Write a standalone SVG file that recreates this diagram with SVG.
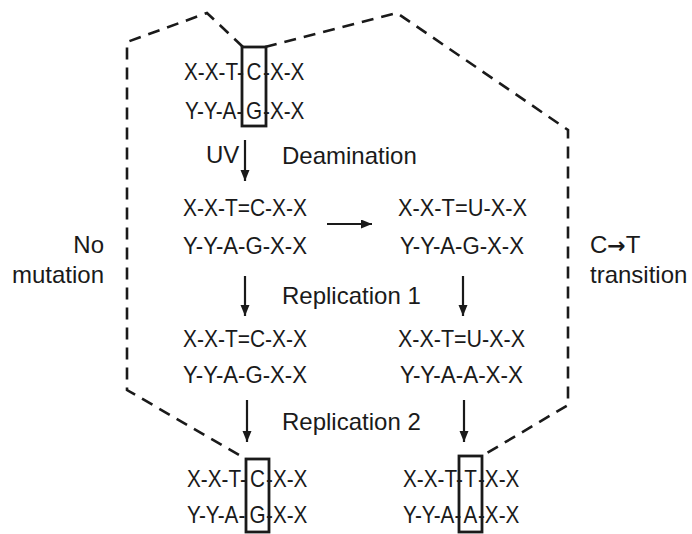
<svg xmlns="http://www.w3.org/2000/svg" width="692" height="534" viewBox="0 0 692 534">
<defs>
<marker id="ah" markerUnits="userSpaceOnUse" markerWidth="12" markerHeight="10" refX="11" refY="4.5" orient="auto">
<path d="M0,0 L11,4.5 L0,9 z" fill="#1a1a1a"/>
</marker>
<style>
text{font-family:"Liberation Sans",Arial,sans-serif;fill:#1a1a1a}
.s{font-size:23px}
.l{font-size:24px}
.ar{font-family:"DejaVu Sans",sans-serif;font-weight:bold;font-size:22px}
.arr{stroke:#1a1a1a;stroke-width:2.2;fill:none;marker-end:url(#ah)}
.dash{stroke:#1a1a1a;stroke-width:2.6;fill:none;stroke-dasharray:12 8}
.box{stroke:#1a1a1a;stroke-width:2.8;fill:none}
</style>
</defs>
<rect width="692" height="534" fill="#fff"/>
<g id="boundary">
<path class="dash" d="M243,47 L207,13 L127,42 L127,390 L246,459"/>
<path class="dash" d="M265,47 L397,13 L568,130 L568,405 L482,456"/>
</g>
<g id="connectors">
<line class="arr" x1="245" y1="140" x2="245" y2="181"/>
<line class="arr" x1="327" y1="224" x2="372" y2="224"/>
<line class="arr" x1="245" y1="276" x2="245" y2="316"/>
<line class="arr" x1="463" y1="276" x2="463" y2="316"/>
<line class="arr" x1="247" y1="400" x2="247" y2="442"/>
<line class="arr" x1="464" y1="400" x2="464" y2="442"/>
</g>
<g id="start">
<rect class="box" x="242" y="47" width="24" height="79"/>
<text class="s" transform="translate(184,80) scale(0.9,1)"><tspan x="0">X-X-T-</tspan><tspan x="69.4">C</tspan><tspan x="87.8">-X-X</tspan></text>
<text class="s" transform="translate(185,119) scale(0.9,1)"><tspan x="0">Y-Y-A-</tspan><tspan x="67.8">G</tspan><tspan x="86.7">-X-X</tspan></text>
</g>
<g id="uv-label"><text class="l" x="206" y="163">UV</text></g>
<g id="deamination-label"><text class="l" x="282" y="164">Deamination</text></g>
<g id="uv-left">
<text class="s" x="183" y="216" textLength="124" lengthAdjust="spacingAndGlyphs">X-X-T=C-X-X</text>
<text class="s" x="183" y="254" textLength="124" lengthAdjust="spacingAndGlyphs">Y-Y-A-G-X-X</text>
</g>
<g id="deaminated">
<text class="s" x="398" y="216" textLength="129" lengthAdjust="spacingAndGlyphs">X-X-T=U-X-X</text>
<text class="s" x="400" y="254" textLength="124" lengthAdjust="spacingAndGlyphs">Y-Y-A-G-X-X</text>
</g>
<g id="no-mutation-label">
<text class="l" x="104" y="253" text-anchor="end">No</text>
<text class="l" x="104" y="283" text-anchor="end">mutation</text>
</g>
<g id="transition-label">
<text class="l" x="590" y="253">C<tspan class="ar">→</tspan>T</text>
<text class="l" x="590" y="283">transition</text>
</g>
<g id="replication1-label"><text class="l" x="282" y="304">Replication 1</text></g>
<g id="rep1-left">
<text class="s" x="183" y="347" textLength="124" lengthAdjust="spacingAndGlyphs">X-X-T=C-X-X</text>
<text class="s" x="183" y="383" textLength="124" lengthAdjust="spacingAndGlyphs">Y-Y-A-G-X-X</text>
</g>
<g id="rep1-right">
<text class="s" x="398" y="347" textLength="127" lengthAdjust="spacingAndGlyphs">X-X-T=U-X-X</text>
<text class="s" x="400" y="383" textLength="123" lengthAdjust="spacingAndGlyphs">Y-Y-A-A-X-X</text>
</g>
<g id="replication2-label"><text class="l" x="282" y="430">Replication 2</text></g>
<g id="final-left">
<rect class="box" x="246" y="459" width="23" height="73"/>
<text class="s" transform="translate(187,487) scale(0.9,1)"><tspan x="0">X-X-T-</tspan><tspan x="70">C</tspan><tspan x="87.8">-X-X</tspan></text>
<text class="s" transform="translate(187,523) scale(0.9,1)"><tspan x="0">Y-Y-A-</tspan><tspan x="69.4">G</tspan><tspan x="87.8">-X-X</tspan></text>
</g>
<g id="final-right">
<rect class="box" x="459" y="456" width="23" height="76"/>
<text class="s" transform="translate(403,487) scale(0.9,1)"><tspan x="0">X-X-T-</tspan><tspan x="68">T</tspan><tspan x="83.3">-X-X</tspan></text>
<text class="s" transform="translate(403,523) scale(0.9,1)"><tspan x="0">Y-Y-A-</tspan><tspan x="67.3">A</tspan><tspan x="83.3">-X-X</tspan></text>
</g>
</svg>
